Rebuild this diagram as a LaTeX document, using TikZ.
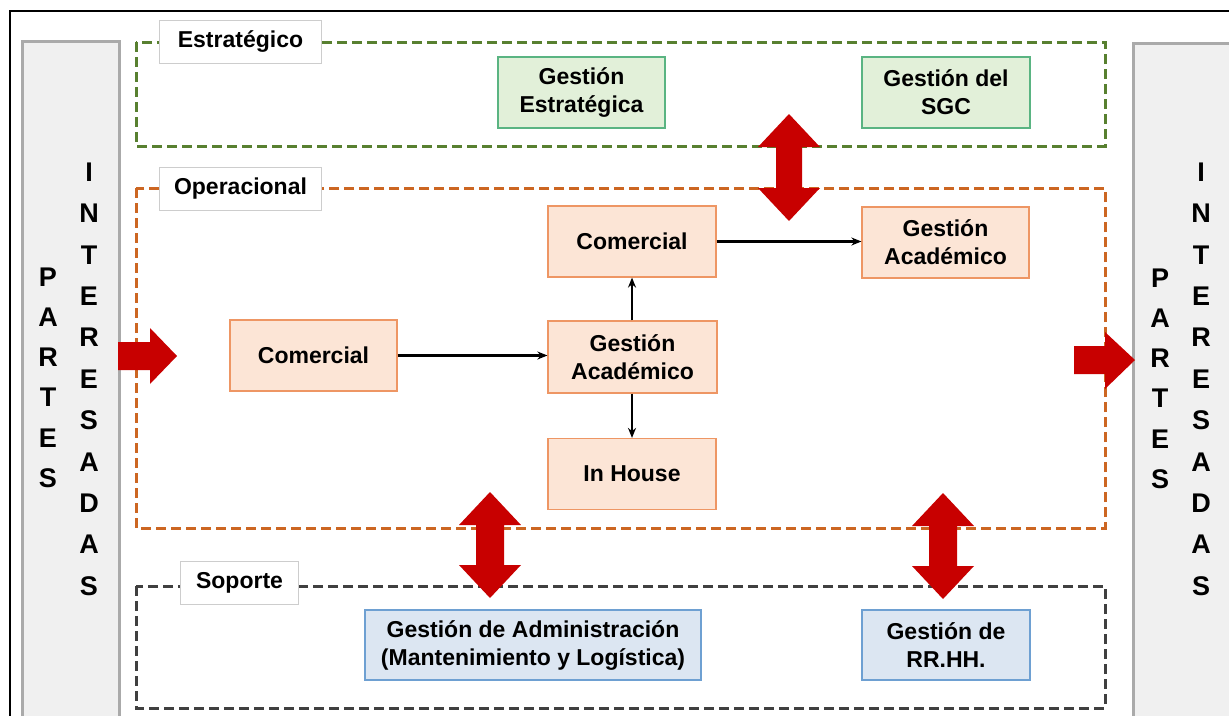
\documentclass[tikz,border=0pt]{standalone}
\usepackage{fontspec}
\setmainfont{Liberation Sans}
\usetikzlibrary{arrows.meta}
\definecolor{estrline}{RGB}{88,128,48}
\definecolor{operline}{RGB}{204,102,34}
\definecolor{sopline}{RGB}{64,64,64}
\definecolor{greenfill}{RGB}{226,240,217}
\definecolor{greenborder}{RGB}{90,180,130}
\definecolor{orangefill}{RGB}{252,229,214}
\definecolor{orangeborder}{RGB}{238,150,100}
\definecolor{bluefill}{RGB}{220,230,242}
\definecolor{blueborder}{RGB}{110,160,210}
\definecolor{redarrow}{RGB}{200,0,0}
\definecolor{barfill}{RGB}{240,240,240}
\definecolor{barborder}{RGB}{170,170,170}
\definecolor{labelborder}{RGB}{205,205,205}
\begin{document}
\begin{tikzpicture}[x=1pt,y=-1pt,
  txt/.style={font=\fontsize{23}{28}\selectfont\bfseries, align=center, inner sep=0pt},
  procbox/.style={txt, draw, line width=1.2pt, minimum width=168pt, minimum height=71pt},
  greenbox/.style={procbox, fill=greenfill, draw=greenborder},
  orangebox/.style={procbox, fill=orangefill, draw=orangeborder},
  bluebox/.style={procbox, fill=bluefill, draw=blueborder},
  grouplabel/.style={txt, fill=white, draw=labelborder, line width=0.8pt, minimum height=43pt},
  groupframe/.style={line width=3pt, dash pattern=on 10pt off 5pt},
  sidebar/.style={draw=barborder, fill=barfill, line width=2.5pt},
  sideletter/.style={font=\fontsize{27}{27}\selectfont\bfseries, inner sep=0pt},
  conn/.style={line width=2.2pt, -{Stealth[length=10pt,width=8pt]}},
  blockarrow/.style={fill=redarrow}
]
\useasboundingbox (0,0) rectangle (1229,715);
\fill[white] (0,0) rectangle (1229,715);
% outer frame
\draw[line width=2.5pt] (10,720) -- (10,11) -- (1235,11);

% side bars
\node[sidebar, minimum width=97pt, minimum height=680pt, anchor=north west] (barL) at (21,40) {};
\node[sidebar, minimum width=97pt, minimum height=680pt, anchor=north west] (barR) at (1132,42) {};
\foreach \L [count=\i from 0] in {P,A,R,T,E,S} {
  \node[sideletter] (lp\i) at (48,277+40.2*\i) {\L};
  \node[sideletter] (rp\i) at (1160,278+40.2*\i) {\L};
}
\foreach \L [count=\i from 0] in {I,N,T,E,R,E,S,A,D,A,S} {
  \node[sideletter] (li\i) at (89,172+41.4*\i) {\L};
  \node[sideletter] (ri\i) at (1201,172+41.4*\i) {\L};
}

% group frames
\draw[groupframe, draw=estrline] (136,42) rectangle (1105,146);
\draw[groupframe, draw=operline] (136,188) rectangle (1105,528);
\draw[groupframe, draw=sopline] (136,586) rectangle (1105,708);

\node[grouplabel, minimum width=162pt] (lblE) at (240.5,42) {Estratégico};
\node[grouplabel, minimum width=162pt] (lblO) at (240.5,189) {Operacional};
\node[grouplabel, minimum width=118pt] (lblS) at (239.5,583) {Soporte};

% boxes
\node[greenbox, minimum width=167pt] (gest_estr) at (581.5,92.5) {Gestión\\Estratégica};
\node[greenbox] (gest_sgc) at (946,92.5) {Gestión del\\SGC};
\node[orangebox] (com_top) at (632,241.5) {Comercial};
\node[orangebox, minimum width=167pt] (ga_top) at (945.5,242.5) {Gestión\\Académico};
\node[orangebox, minimum width=167pt] (com_left) at (313.5,355.5) {Comercial};
\node[orangebox, minimum width=169pt, minimum height=72pt] (ga_mid) at (632.5,357) {Gestión\\Académico};
\node[orangebox] (inhouse) at (632,474) {In House};
\node[bluebox, minimum width=336pt, minimum height=70pt] (adm) at (533,645) {Gestión de Administración\\(Mantenimiento y Logística)};
\node[bluebox, minimum height=70pt] (rrhh) at (946,645) {Gestión de\\RR.HH.};

% connectors
\draw[conn] (com_left.east) -- (ga_mid.west |- com_left.east);
\draw[conn] (ga_mid.north -| com_top.south) -- (com_top.south);
\draw[conn] (ga_mid.south -| inhouse.north) -- (inhouse.north);
\draw[conn] (com_top.east) -- (ga_top.west |- com_top.east);

% red block arrows
\fill[blockarrow] (789,114) -- (820,147) -- (802,147) -- (802,188) -- (820,188) -- (789,221)
  -- (758,188) -- (776,188) -- (776,147) -- (758,147) -- cycle;
\fill[blockarrow] (490,492) -- (521,525) -- (504,525) -- (504,565) -- (521,565) -- (490,598)
  -- (459,565) -- (476,565) -- (476,525) -- (459,525) -- cycle;
\fill[blockarrow] (943,493) -- (974,526) -- (957,526) -- (957,566) -- (974,566) -- (943,599)
  -- (912,566) -- (929,566) -- (929,526) -- (912,526) -- cycle;
\fill[blockarrow] (118,342) -- (150,342) -- (150,328) -- (177,356) -- (150,384) -- (150,370) -- (118,370) -- cycle;
\fill[blockarrow] (1074,346) -- (1105,346) -- (1105,332) -- (1135,360) -- (1105,389) -- (1105,374) -- (1074,374) -- cycle;
\end{tikzpicture}
\end{document}
